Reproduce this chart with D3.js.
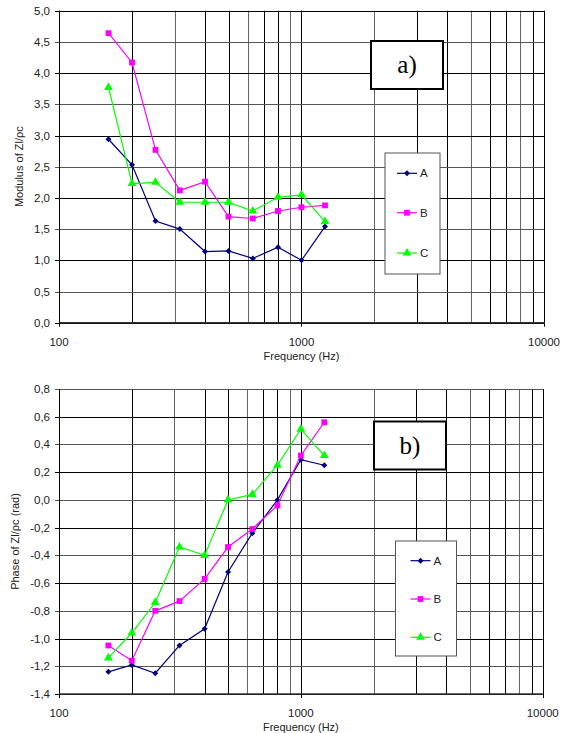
<!DOCTYPE html>
<meta charset="utf-8">
<style>
  body { margin: 0; background: #fff; }
  svg text { font-family: "Liberation Sans", Arial, sans-serif; }
</style>
<svg width="570" height="733"></svg>
<script src="https://d3js.org/d3.v7.min.js"></script>
<script>
  // 1/3 octave centre frequencies
  var freqs = [160, 200, 250, 315, 400, 500, 630, 800, 1000, 1250];
  var seriesNames = ["A", "B", "C"];
  var colors = ["#000080", "#ff00ff", "#00ff00"];
  var symbols = [d3.symbolSquare, d3.symbolSquare, d3.symbolTriangle];
  var symSize = [18, 34, 34];
  var symRot = [45, 0, 0];

  // a) modulus of Zl/pc
  var modA = [2.94, 2.53, 1.63, 1.50, 1.14, 1.15, 1.03, 1.21, 1.00, 1.54];
  var modB = [4.64, 4.17, 2.77, 2.12, 2.26, 1.70, 1.67, 1.79, 1.85, 1.88];
  var modC = [3.77, 2.23, 2.25, 1.93, 1.93, 1.93, 1.79, 2.01, 2.05, 1.62];
  var modTicks = [0, 0.5, 1, 1.5, 2, 2.5, 3, 3.5, 4, 4.5, 5];

  // b) phase of Zl/pc
  var phA = [-1.24, -1.19, -1.25, -1.05, -0.93, -0.52, -0.24, 0.00, 0.29, 0.25];
  var phB = [-1.05, -1.16, -0.80, -0.73, -0.57, -0.34, -0.21, -0.04, 0.32, 0.56];
  var phC = [-1.14, -0.96, -0.74, -0.34, -0.40, 0.00, 0.04, 0.25, 0.51, 0.32];
  var phTicks = [-1.4, -1.2, -1, -0.8, -0.6, -0.4, -0.2, 0, 0.2, 0.4, 0.6, 0.8];

  var xTicks = [100, 1000, 10000];

  var svg = d3.select("svg");
  var fmt = function(v) { return d3.format(".1f")(v).replace(".", ",").replace("\u2212", "-"); };

  function marker(sel, si) {
    sel.attr("d", d3.symbol().type(symbols[si]).size(symSize[si]))
      .attr("fill", colors[si]);
  }

  function panel(opt) {
    var x = d3.scaleLog().domain([100, 10000]).range([opt.left, opt.right]);
    var y = d3.scaleLinear().domain(opt.yDomain).range([opt.bottom, opt.top]);
    var g = svg.append("g");

    // log grid 100..10000
    var grid = [];
    [100, 1000].forEach(function(dec) {
      for (var k = 1; k <= 10; k++) grid.push(dec * k);
    });
    g.append("g").selectAll("line").data(grid).enter().append("line")
      .attr("x1", function(d) { return Math.round(x(d)) + 0.5; })
      .attr("x2", function(d) { return Math.round(x(d)) + 0.5; })
      .attr("y1", opt.top).attr("y2", opt.bottom)
      .attr("stroke", function(d, i) { return i % 3 == 2 ? "#666" : "#000"; })
      .attr("stroke-width", 1);
    g.append("g").selectAll("line").data(opt.yTicks).enter().append("line")
      .attr("x1", opt.left - 4).attr("x2", opt.right)
      .attr("y1", function(d) { return Math.round(y(d)) + 0.5; })
      .attr("y2", function(d) { return Math.round(y(d)) + 0.5; })
      .attr("stroke", function(d, i) { return i % 2 ? "#555" : "#000"; })
      .attr("stroke-width", 1);

    // axes
    g.append("line").attr("x1", Math.round(opt.left) + 0.5).attr("x2", Math.round(opt.left) + 0.5)
      .attr("y1", opt.top).attr("y2", opt.bottom).attr("stroke", "#000");
    g.append("line").attr("x1", opt.left).attr("x2", opt.right)
      .attr("y1", opt.bottom).attr("y2", opt.bottom).attr("stroke", "#333").attr("stroke-width", 1.5);
    g.append("g").selectAll("line").data(xTicks).enter().append("line")
      .attr("x1", function(d) { return Math.round(x(d)) + 0.5; })
      .attr("x2", function(d) { return Math.round(x(d)) + 0.5; })
      .attr("y1", opt.bottom).attr("y2", opt.bottom + 4).attr("stroke", "#000");

    // tick labels
    g.append("g").selectAll("text").data(opt.yTicks).enter().append("text")
      .attr("x", opt.left - 9).attr("y", function(d) { return y(d) + 4; })
      .attr("text-anchor", "end").attr("font-size", 11.5).attr("fill", "#222")
      .text(fmt);
    g.append("g").selectAll("text").data(xTicks).enter().append("text")
      .attr("x", function(d) { return x(d); }).attr("y", opt.bottom + 23)
      .attr("text-anchor", "middle").attr("font-size", 11.5).attr("fill", "#222")
      .text(function(d) { return d; });

    g.append("text").attr("x", x(1000)).attr("y", opt.bottom + 37)
      .attr("text-anchor", "middle").attr("font-size", 11).attr("fill", "#222")
      .text("Frequency (Hz)");
    g.append("text")
      .attr("transform", "translate(" + opt.yLabelX + "," + (opt.top + opt.bottom) / 2 + ") rotate(-90)")
      .attr("text-anchor", "middle").attr("font-size", 11).attr("fill", "#222")
      .text(opt.yLabel);

    // series
    opt.series.forEach(function(vals, si) {
      var pts = freqs.map(function(f, i) { return [f, vals[i]]; });
      g.append("path").datum(pts)
        .attr("fill", "none").attr("stroke", colors[si]).attr("stroke-width", 1.2)
        .attr("d", d3.line().x(function(d) { return x(d[0]); }).y(function(d) { return y(d[1]); }));
      g.append("g").selectAll("path").data(pts).enter().append("path")
        .attr("transform", function(d) {
          return "translate(" + x(d[0]) + "," + y(d[1]) + ") rotate(" + symRot[si] + ")";
        })
        .call(marker, si);
    });

    // label box
    var b = opt.box;
    g.append("rect").attr("x", b[0]).attr("y", b[1]).attr("width", b[2]).attr("height", b[3])
      .attr("fill", "#fff").attr("stroke", "#000").attr("stroke-width", 2);
    g.append("text").attr("x", b[0] + b[2] / 2).attr("y", b[1] + b[3] / 2 + 8)
      .attr("text-anchor", "middle").attr("font-size", 25)
      .style("font-family", "'Liberation Serif', 'Times New Roman', serif")
      .text(opt.boxText);

    // legend
    var L = opt.legend;
    g.append("rect").attr("x", L.x).attr("y", L.y).attr("width", L.w).attr("height", L.h)
      .attr("fill", "#fff").attr("stroke", "#555").attr("stroke-width", 1);
    seriesNames.forEach(function(name, si) {
      var ly = L.rows[si];
      g.append("line").attr("x1", L.x + L.lx0).attr("x2", L.x + L.lx1)
        .attr("y1", ly).attr("y2", ly).attr("stroke", colors[si]).attr("stroke-width", 1.2);
      g.append("path")
        .attr("transform", "translate(" + (L.x + (L.lx0 + L.lx1) / 2) + "," + ly + ") rotate(" + symRot[si] + ")")
        .call(marker, si);
      g.append("text").attr("x", L.x + L.lx1 + 3).attr("y", ly + 4)
        .attr("font-size", 11.5).attr("fill", "#222").text(name);
    });
  }

  panel({
    left: 59, right: 544, top: 10.7, bottom: 322.7,
    yDomain: [0, 5], yTicks: modTicks,
    yLabel: "Modulus of Zl/\u03c1c", yLabelX: 23,
    series: [modA, modB, modC],
    box: [371, 41, 72, 48], boxText: "a)",
    legend: { x: 385, y: 153, w: 55, h: 121, lx0: 12, lx1: 32, rows: [173.3, 212.7, 253] }
  });

  panel({
    left: 59, right: 542.7, top: 389, bottom: 694,
    yDomain: [-1.4, 0.8], yTicks: phTicks,
    yLabel: "Phase of Zl/\u03c1c (rad)", yLabelX: 19,
    series: [phA, phB, phC],
    box: [374, 421.5, 72, 48], boxText: "b)",
    legend: { x: 395.5, y: 541, w: 61, h: 115, lx0: 15, lx1: 35, rows: [560.7, 599, 637.3] }
  });
</script>
